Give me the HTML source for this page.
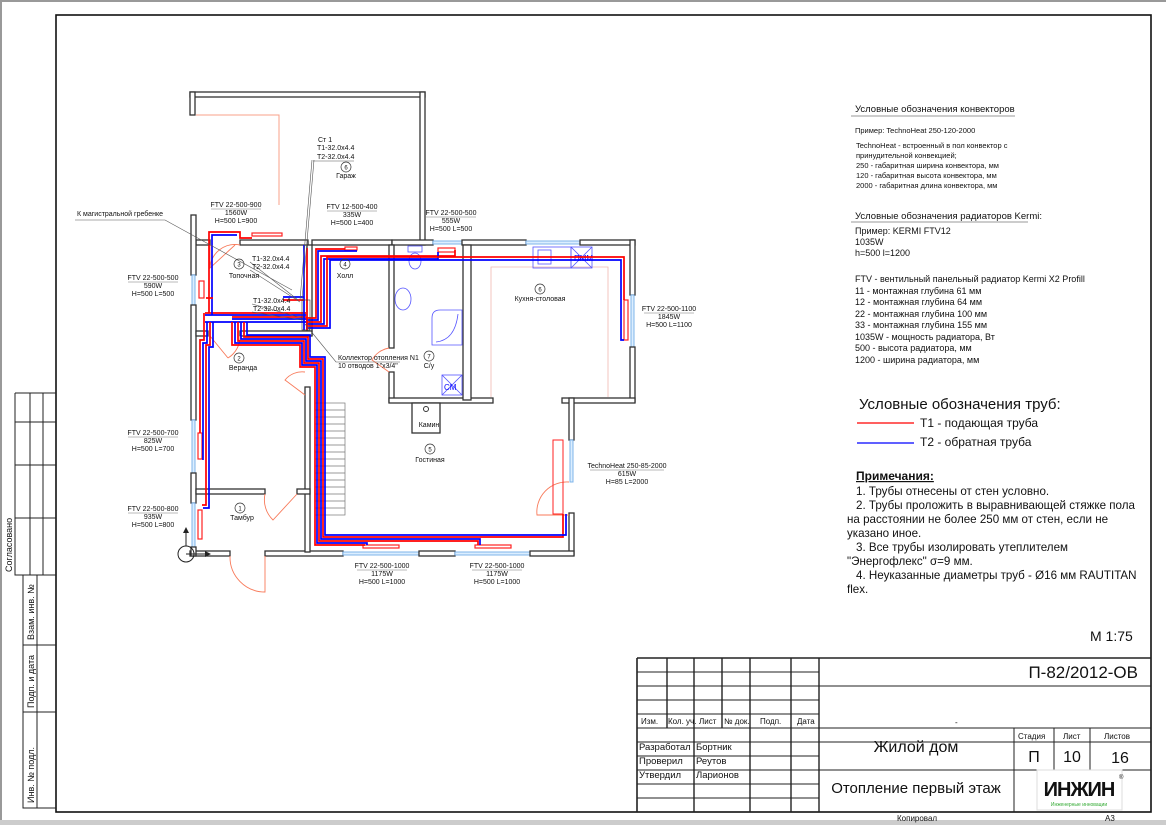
<!DOCTYPE html>
<html><head><meta charset="utf-8"><style>
html,body{margin:0;padding:0;background:#fff}
svg{display:block}
text{font-family:"Liberation Sans",sans-serif;fill:#111}
.s{font-size:7px}
.w{fill:#fff;stroke:#333;stroke-width:1.3}
.win{fill:#dbeeff;stroke:#7fb4ea;stroke-width:1}
.rad{fill:#fff;stroke:#f22;stroke-width:1.2}
.r{fill:none;stroke:#f00;stroke-width:1.7}
.b{fill:none;stroke:#00f;stroke-width:1.7}
.door{fill:none;stroke:#f87a5a;stroke-width:0.9}
.san{fill:none;stroke:#55f;stroke-width:0.8}
.g{stroke:#222;stroke-width:1;fill:none}
.gt{stroke:#111;stroke-width:1.6;fill:none}
.ld{stroke:#555;stroke-width:0.6;fill:none}
</style></head><body>
<svg width="1166" height="825" viewBox="0 0 1166 825" xmlns="http://www.w3.org/2000/svg">
<rect x="0" y="0" width="1166" height="825" fill="#fff"/>
<line x1="0" y1="1" x2="1166" y2="1" stroke="#999" stroke-width="2"/>
<line x1="1" y1="0" x2="1" y2="825" stroke="#999" stroke-width="2"/>
<rect x="0" y="820" width="1166" height="5" fill="#ccc"/>
<rect x="56" y="15" width="1095" height="797" class="gt"/>
<g class="g">
<path d="M15,393 H56 M15,393 V575 H56 M30,393 V575 M43,393 V575 M15,422 H56 M15,465 H56 M15,518 H56"/>
<path d="M23,575 V808 H56 M37,575 V808 M23,645 H56 M23,712 H56"/>
</g>
<g font-size="9">
<text transform="translate(12,572) rotate(-90)">Согласовано</text>
<text transform="translate(34,640) rotate(-90)">Взам. инв. №</text>
<text transform="translate(34,708) rotate(-90)">Подп. и дата</text>
<text transform="translate(34,803) rotate(-90)">Инв. № подл.</text>
</g>
<g class="g">
<path d="M637,658 H1151 M637,658 V812" stroke-width="1.6"/>
<path d="M637,672 H819 M637,686 H1151 M637,700 H819 M637,714 H819 M637,728 H1151 M637,742 H1151 M637,756 H819 M637,770 H1151 M637,784 H819 M637,798 H819"/>
<path d="M667,658 V728 M694,658 V812 M722,658 V728 M750,658 V812 M791,658 V812 M819,658 V812" stroke-width="1.4"/>
<path d="M1014,728 V812 M1054,728 V770 M1090,728 V770"/>
</g>
<g font-size="8">
<text x="641" y="724">Изм.</text><text x="668" y="724">Кол. уч.</text><text x="699" y="724">Лист</text><text x="724" y="724">№ док.</text><text x="760" y="724">Подп.</text><text x="797" y="724">Дата</text>
</g>
<g font-size="9.5">
<text x="639" y="750">Разработал</text><text x="696" y="750">Бортник</text>
<text x="639" y="764">Проверил</text><text x="696" y="764">Реутов</text>
<text x="639" y="778">Утвердил</text><text x="696" y="778">Ларионов</text>
</g>
<text x="1138" y="678" font-size="17" text-anchor="end">П-82/2012-ОВ</text>
<text x="955" y="725" font-size="8">-</text>
<text x="1018" y="739" font-size="8">Стадия</text><text x="1063" y="739" font-size="8">Лист</text><text x="1104" y="739" font-size="8">Листов</text>
<text x="916" y="752" font-size="16" text-anchor="middle">Жилой дом</text>
<text x="1034" y="762" font-size="16" text-anchor="middle">П</text>
<text x="1072" y="762" font-size="16" text-anchor="middle">10</text>
<text x="1120" y="763" font-size="16" text-anchor="middle">16</text>
<text x="916" y="793" font-size="15" text-anchor="middle">Отопление первый этаж</text>
<rect x="1037" y="770" width="85" height="40" fill="#fff" stroke="#ddd"/>
<text x="1079" y="796" font-size="20" font-weight="bold" text-anchor="middle" style="letter-spacing:-1px">ИНЖИН</text>
<text x="1079" y="806" font-size="5" text-anchor="middle" style="fill:#3a3">Инженерные инновации</text>
<text x="1119" y="779" font-size="6">®</text>
<text x="897" y="821" font-size="8">Копировал</text>
<text x="1105" y="821" font-size="8">А3</text>

<g font-size="9.5">
<text x="855" y="112">Условные обозначения конвекторов</text>
<line x1="851" y1="116" x2="1015" y2="116" stroke="#777" stroke-width="0.7"/>
</g>
<g font-size="7.5">
<text x="855" y="133">Пример: TechnoHeat 250-120-2000</text>
<text x="856" y="148">TechnoHeat - встроенный в пол  конвектор с</text>
<text x="856" y="158">принудительной конвекцией;</text>
<text x="856" y="168">250 - габаритная ширина конвектора, мм</text>
<text x="856" y="178">120 - габаритная высота конвектора, мм</text>
<text x="856" y="188">2000 - габаритная длина конвектора, мм</text>
</g>
<text x="855" y="219" font-size="9.5">Условные обозначения радиаторов Kermi:</text>
<line x1="851" y1="222" x2="1028" y2="222" stroke="#777" stroke-width="0.7"/>
<g font-size="9">
<text x="855" y="234">Пример: KERMI FTV12</text>
<text x="855" y="245">1035W</text>
<text x="855" y="256">h=500 l=1200</text>
<text x="855" y="282">FTV - вентильный панельный радиатор Kermi X2 Profill</text>
<text x="855" y="294">11 - монтажная глубина 61 мм</text>
<text x="855" y="305">12 - монтажная глубина 64 мм</text>
<text x="855" y="317">22 - монтажная глубина 100 мм</text>
<text x="855" y="328">33 - монтажная глубина 155 мм</text>
<text x="855" y="340">1035W - мощность радиатора, Вт</text>
<text x="855" y="351">500 - высота радиатора, мм</text>
<text x="855" y="363">1200 - ширина радиатора, мм</text>
</g>
<text x="859" y="409" font-size="15">Условные обозначения  труб:</text>
<line x1="857" y1="423" x2="914" y2="423" stroke="#f00" stroke-width="1.2"/>
<text x="920" y="427" font-size="12">Т1 - подающая труба</text>
<line x1="857" y1="443" x2="914" y2="443" stroke="#00f" stroke-width="1.2"/>
<text x="920" y="446" font-size="12">Т2 - обратная труба</text>
<text x="856" y="480" font-size="12" font-weight="bold" text-decoration="underline">Примечания:</text>
<g font-size="11.6">
<text x="856" y="495">1. Трубы отнесены от стен условно.</text>
<text x="856" y="509">2. Трубы проложить в выравнивающей стяжке  пола</text>
<text x="847" y="523">на расстоянии не более 250 мм от стен, если не</text>
<text x="847" y="537">указано иное.</text>
<text x="856" y="551">3. Все трубы изолировать утеплителем</text>
<text x="847" y="565">"Энергофлекс" σ=9 мм.</text>
<text x="856" y="579">4. Неуказанные диаметры труб - Ø16 мм RAUTITAN</text>
<text x="847" y="593">flex.</text>
</g>
<text x="1090" y="641" font-size="14">М 1:75</text>

<path d="M196,115 H279 V205" fill="none" stroke="#f9a08a" stroke-width="1"/>
<path d="M491,397 V267 H608 V397" fill="none" stroke="#f0b8b0" stroke-width="0.8"/>
<rect class="w" x="190" y="92" width="235" height="5"/>
<rect class="w" x="190" y="92" width="5" height="23"/>
<rect class="w" x="420" y="92" width="5" height="153"/>
<rect class="w" x="196" y="240" width="14" height="5"/>
<rect class="w" x="240" y="240" width="68" height="5"/>
<rect class="w" x="312" y="240" width="80" height="5"/>
<rect class="w" x="392" y="240" width="41" height="5"/>
<rect class="win" x="433" y="241" width="29" height="3"/>
<rect class="w" x="462" y="240" width="64" height="5"/>
<rect class="win" x="526" y="241" width="54" height="3"/>
<rect class="w" x="580" y="240" width="55" height="5"/>
<rect class="w" x="630" y="240" width="5" height="55"/>
<rect class="win" x="631" y="295" width="3" height="52"/>
<rect class="w" x="630" y="347" width="5" height="55"/>
<rect class="w" x="562" y="398" width="73" height="5"/>
<rect class="w" x="569" y="398" width="5" height="42"/>
<rect class="win" x="570" y="440" width="3" height="42"/>
<rect class="w" x="569" y="513" width="5" height="42"/>
<rect class="w" x="190" y="551" width="40" height="5"/>
<rect class="w" x="265" y="551" width="78" height="5"/>
<rect class="win" x="343" y="552" width="76" height="3"/>
<rect class="w" x="419" y="551" width="36" height="5"/>
<rect class="win" x="455" y="552" width="75" height="3"/>
<rect class="w" x="530" y="551" width="44" height="5"/>
<rect class="w" x="191" y="215" width="5" height="60"/>
<rect class="win" x="192" y="275" width="3" height="30"/>
<rect class="w" x="191" y="305" width="5" height="115"/>
<rect class="win" x="192" y="420" width="3" height="53"/>
<rect class="w" x="191" y="473" width="5" height="30"/>
<rect class="win" x="192" y="503" width="3" height="44"/>
<rect class="w" x="191" y="547" width="5" height="9"/>
<rect class="w" x="307" y="245" width="5" height="90"/>
<rect class="w" x="196" y="331" width="12" height="5"/>
<rect class="w" x="240" y="331" width="72" height="5"/>
<rect class="w" x="305" y="387" width="5" height="165"/>
<rect class="w" x="196" y="489" width="69" height="5"/>
<rect class="w" x="297" y="489" width="13" height="5"/>
<rect class="w" x="389" y="245" width="5" height="103"/>
<rect class="w" x="389" y="372" width="5" height="30"/>
<rect class="w" x="389" y="398" width="104" height="5"/>
<rect class="w" x="463" y="245" width="8" height="155"/>
<rect class="w" x="412" y="403" width="28" height="30"/>
<circle cx="426" cy="409" r="2.5" fill="none" stroke="#333"/>
<g stroke="#777" stroke-width="0.7" fill="none">
<rect x="315" y="403" width="30" height="112"/>
<path d="M315,410H345M315,417H345M315,424H345M315,431H345M315,438H345M315,445H345M315,452H345M315,459H345M315,466H345M315,473H345M315,480H345M315,487H345M315,494H345M315,501H345M315,508H345"/>
</g>
<path class="door" d="M210,245 V268 L235,245 M210,268 A25,25 0 0 1 240,245"/>
<path class="door" d="M210,336 L228,358 M228,358 A25,25 0 0 0 240,336"/>
<path class="door" d="M305,372 A22,22 0 0 0 285,380 L305,395"/>
<path class="door" d="M389,348 A24,24 0 0 0 372,360 L389,372"/>
<path class="door" d="M265,494 A28,28 0 0 0 273,520 L297,494"/>
<path class="door" d="M230,556 A35,35 0 0 0 265,592 V556"/>
<path class="door" d="M569,482 A30,30 0 0 0 537,515 H569"/>
<g class="san">
<rect x="408" y="246" width="14" height="6"/><ellipse cx="415" cy="261" rx="6" ry="8"/>
<ellipse cx="403" cy="299" rx="8" ry="11"/>
<path d="M432,345 V318 Q432,310 440,310 H462 V345 Z"/><path d="M436,342 Q455,340 458,314"/>
<rect x="442" y="375" width="20" height="20"/><path d="M442,375 L462,395 M462,375 L442,395"/>
<rect x="533" y="247" width="38" height="21"/><rect x="538" y="250" width="13" height="14"/>
<rect x="571" y="247" width="21" height="21"/><path d="M571,247 L592,268 M592,247 L571,268"/>
</g>
<text x="444" y="390" font-size="8" style="fill:#00f">СМ</text>
<text x="574" y="261" font-size="8" style="fill:#00f">ПММ</text>
<rect class="rad" x="252" y="233" width="30" height="3"/>
<rect class="rad" x="345" y="247" width="12" height="3"/>
<rect class="rad" x="438" y="248" width="17" height="4"/>
<rect class="rad" x="199" y="281" width="5" height="17"/>
<rect class="rad" x="624" y="300" width="4" height="40"/>
<rect class="rad" x="198" y="433" width="4" height="26"/>
<rect class="rad" x="198" y="510" width="4" height="29"/>
<rect class="rad" x="363" y="545" width="36" height="3"/>
<rect class="rad" x="475" y="545" width="36" height="3"/>
<rect x="553" y="440" width="10" height="74" fill="none" stroke="#f22" stroke-width="1"/>
<g>
<path class="r" d="M205,313 H306"/><path class="b" d="M205,315 H306"/><path class="r" d="M232,317 H306"/><path class="b" d="M232,319 H306"/><path class="b" d="M205,322 H306"/>
<path class="r" d="M209,313 V232 H240 V238 H252"/><path class="b" d="M212,315 V235 H237"/>
<path class="r" d="M204,313 V340 H200 V433"/><path class="b" d="M207,322 V343 H203 V460"/>
<path class="r" d="M210,322 V345 H206 V505 H202"/><path class="b" d="M213,322 V347 H209 V508 H203"/>
<path class="r" d="M206,298 H213"/>
<path class="r" d="M232,322 V345 H300 V367 H315 V545 H365"/>
<path class="b" d="M235,322 V343 H302 V365 H317 V543 H367 V545"/>
<path class="r" d="M238,322 V341 H304 V363 H319 V541 H478 V545"/>
<path class="b" d="M241,322 V339 H306 V361 H321 V539 H480 V545"/>
<path class="r" d="M244,322 V337 H308 V359 H323 V537 H563 V514"/>
<path class="b" d="M247,322 V335 H310 V357 H325 V535 H566 V514"/>
<path class="r" d="M306,318 H316 V249 H345"/><path class="b" d="M306,320 H318 V251 H357"/>
<path class="r" d="M306,322 H321 V256 H455 V250"/><path class="b" d="M306,324 H324 V259 H438 V252"/>
<path class="r" d="M306,326 H327 V257 H624 V300"/><path class="b" d="M306,328 H330 V260 H621 V340 H624"/>
<path class="b" d="M304,245 V330"/><path class="r" d="M307,248 V330"/>
<path class="b" d="M283,297 H304"/><path class="r" d="M283,300 H304"/>
<rect x="302" y="300" width="8" height="30" fill="none" stroke="#333" stroke-width="0.6"/>
</g>
<path class="ld" d="M75,220 H165 L292,290"/>
<path class="ld" d="M312,160 L300,300 M314,160 L302,300"/>
<path class="ld" d="M250,262 L298,300 M250,270 L300,302 M252,304 L302,318 M252,312 L302,320"/>
<path class="ld" d="M305,324 L336,362 H400"/>
<path class="ld" d="M313,161 H354"/>
<circle cx="186" cy="554" r="8" fill="none" stroke="#222"/>
<path d="M186,546 V530 M186,554 H208" stroke="#222" stroke-width="1" fill="none"/>
<path d="M183,533 L186,527 L189,533 Z M205,551 L211,554 L205,557 Z" fill="#222"/>
<g class="s" text-anchor="middle">
<text x="236" y="207">FTV 22-500-900</text><text x="236" y="215">1560W</text><text x="236" y="223">H=500 L=900</text>
<text x="352" y="209">FTV 12-500-400</text><text x="352" y="217">335W</text><text x="352" y="225">H=500 L=400</text>
<text x="451" y="215">FTV 22-500-500</text><text x="451" y="223">555W</text><text x="451" y="231">H=500 L=500</text>
<text x="153" y="280">FTV 22-500-500</text><text x="153" y="288">590W</text><text x="153" y="296">H=500 L=500</text>
<text x="669" y="311">FTV 22-500-1100</text><text x="669" y="319">1845W</text><text x="669" y="327">H=500 L=1100</text>
<text x="153" y="435">FTV 22-500-700</text><text x="153" y="443">825W</text><text x="153" y="451">H=500 L=700</text>
<text x="153" y="511">FTV 22-500-800</text><text x="153" y="519">935W</text><text x="153" y="527">H=500 L=800</text>
<text x="627" y="468">TechnoHeat 250-85-2000</text><text x="627" y="476">615W</text><text x="627" y="484">H=85 L=2000</text>
<text x="382" y="568">FTV 22-500-1000</text><text x="382" y="576">1175W</text><text x="382" y="584">H=500 L=1000</text>
<text x="497" y="568">FTV 22-500-1000</text><text x="497" y="576">1175W</text><text x="497" y="584">H=500 L=1000</text>
<text x="346" y="178">Гараж</text><text x="244" y="278">Топочная</text><text x="345" y="278">Холл</text>
<text x="540" y="301">Кухня-столовая</text><text x="243" y="370">Веранда</text><text x="429" y="368">С/у</text>
<text x="429" y="427">Камин</text><text x="430" y="462">Гостиная</text><text x="242" y="520">Тамбур</text>
</g>
<g stroke="#777" stroke-width="0.5">
<path d="M211,209H261M327,211H377M426,217H476M128,282H178M644,313H694M128,437H178M128,513H178M590,470H664M357,570H407M472,570H522"/>
</g>
<g class="s">
<text x="318" y="142">Ст 1</text><text x="317" y="150">Т1-32.0x4.4</text><text x="317" y="159">Т2-32.0x4.4</text>
<text x="77" y="216">К магистральной гребенке</text>
<text x="252" y="261">Т1-32.0x4.4</text><text x="252" y="269">Т2-32.0x4.4</text>
<text x="253" y="303">Т1-32.0x4.4</text><text x="253" y="311">Т2-32.0x4.4</text>
<text x="338" y="360">Коллектор отопления N1</text><text x="338" y="368">10 отводов 1"x3/4"</text>
</g>
<g fill="none" stroke="#333" stroke-width="0.7">
<circle cx="346" cy="167" r="5"/><circle cx="239" cy="264" r="5"/><circle cx="345" cy="264" r="5"/>
<circle cx="540" cy="289" r="5"/><circle cx="239" cy="358" r="5"/><circle cx="429" cy="356" r="5"/>
<circle cx="430" cy="449" r="5"/><circle cx="240" cy="508" r="5"/>
</g>
<g font-size="6" text-anchor="middle">
<text x="346" y="169.5">6</text><text x="239" y="266.5">3</text><text x="345" y="266.5">4</text>
<text x="540" y="291.5">6</text><text x="239" y="360.5">2</text><text x="429" y="358.5">7</text>
<text x="430" y="451.5">5</text><text x="240" y="510.5">1</text>
</g>
</svg>
</body></html>
